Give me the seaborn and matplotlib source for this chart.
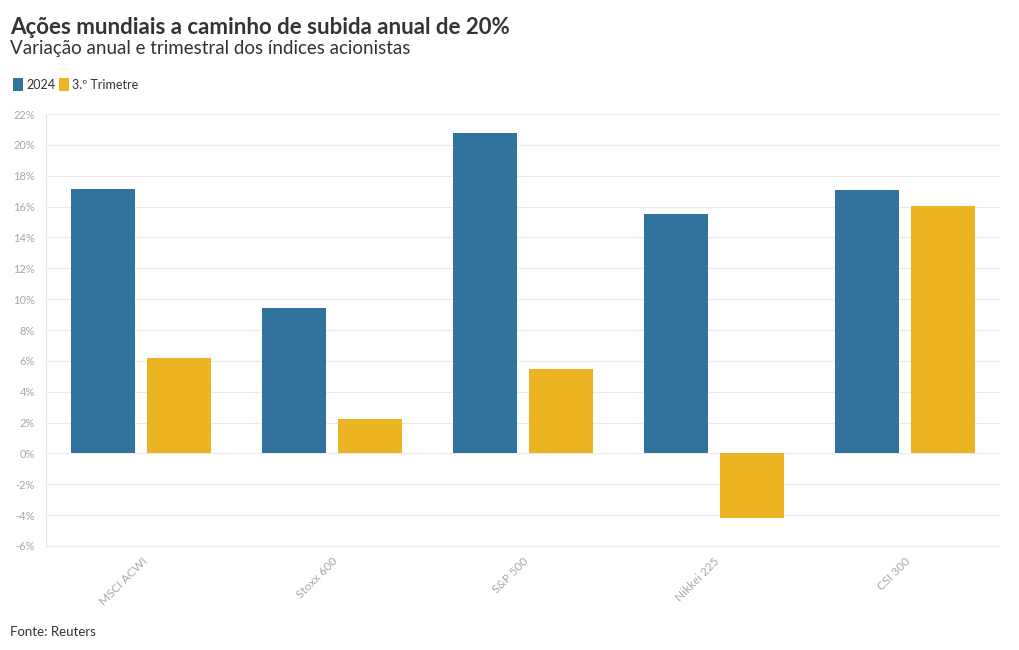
import pandas as pd
import numpy as np
import matplotlib.pyplot as plt
import seaborn as sns
from matplotlib.patches import Patch

# --- Data ---
indices = ['MSCI ACWI', 'Stoxx 600', 'S&P 500', 'Nikkei 225', 'CSI 300']
ytd_2024 = [17.15, 9.4, 20.8, 15.5, 17.1]
q3 = [6.2, 2.2, 5.5, -4.2, 16.05]
series = ['2024', '3.º Trimetre']
yticks = list(range(-6, 23, 2))

df = pd.DataFrame({
    'indice': indices * 2,
    'valor': ytd_2024 + q3,
    'serie': [series[0]] * len(indices) + [series[1]] * len(indices),
})

blue = '#31739c'
yellow = '#ecb322'
text_dark = '#333333'
tick_gray = '#a8a8a8'
grid_gray = '#ebebeb'

sns.set_style('white')
plt.rcParams['font.family'] = ['Lato', 'DejaVu Sans']

fig = plt.figure(figsize=(10.2, 6.5), dpi=100)
ax = fig.add_axes([0.0451, 0.16, 0.9353, 0.6646])

sns.barplot(data=df, x='indice', y='valor', hue='serie',
            palette=[blue, yellow], saturation=1, width=0.797, gap=0.158,
            edgecolor='none', legend=False, ax=ax)

ax.set_ylim(-6, 22)
ax.set_xlim(-0.5, len(indices) - 0.5)
ax.set_yticks(yticks)
ax.set_yticklabels([f'{t}%' for t in yticks], color=tick_gray, fontsize=8)
ax.set_xticks(range(len(indices)))
ax.set_xticklabels(indices, rotation=45, ha='right', rotation_mode='anchor',
                   color=tick_gray, fontsize=8.5)
ax.tick_params(axis='y', length=0, pad=8)
ax.tick_params(axis='x', length=4, color='#dddddd', pad=3)
ax.set_xlabel('')
ax.set_ylabel('')

ax.yaxis.grid(True, color=grid_gray, linewidth=0.8)
ax.set_axisbelow(True)
for side in ['top', 'right']:
    ax.spines[side].set_visible(False)
for side in ['left', 'bottom']:
    ax.spines[side].set_color('#e6e6e6')
    ax.spines[side].set_linewidth(0.8)

# Titles
fig.text(0.0098, 0.958, 'Ações mundiais a caminho de subida anual de 20%',
         fontsize=16, fontweight='bold', color=text_dark, va='center')
fig.text(0.0098, 0.925, 'Variação anual e trimestral dos índices acionistas',
         fontsize=13.5, color=text_dark, va='center')

# Legend
handles = [Patch(facecolor=c, edgecolor='none', label=s) for c, s in zip([blue, yellow], series)]
fig.legend(handles=handles, loc='center left', bbox_to_anchor=(0.002, 0.870),
           ncol=2, frameon=False, fontsize=9, handlelength=0.8, handleheight=1.2,
           handletextpad=0.25, columnspacing=0.3, labelcolor=text_dark)

fig.text(0.0098, 0.028, 'Fonte: Reuters', fontsize=9.5, color=text_dark, va='center')

fig.savefig('out.png', dpi=100)
